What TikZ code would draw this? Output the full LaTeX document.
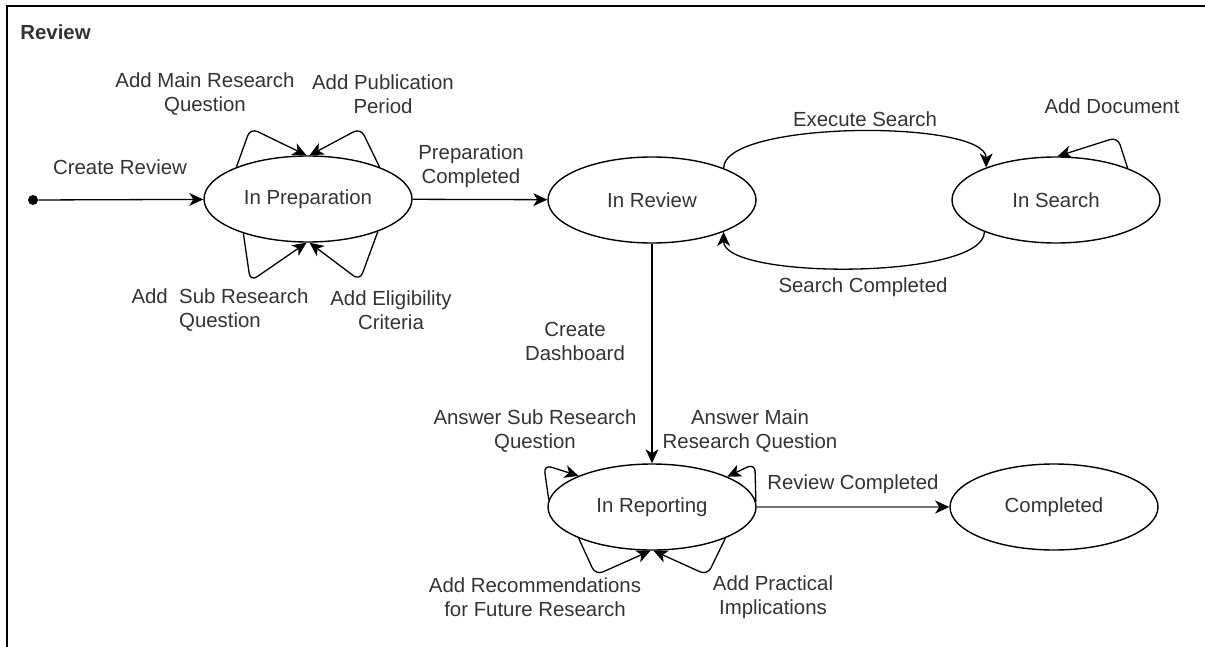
\documentclass[tikz,border=0pt]{standalone}
\usepackage{fontspec}
\setmainfont{Liberation Sans}
\usetikzlibrary{arrows.meta,shapes.geometric}

\tikzset{
	state/.style={draw, ellipse, line width=0.7pt, minimum width=104pt, minimum height=43pt, inner sep=0pt, text=black!80},
	lbl/.style={align=center, inner sep=0pt, text=black!80},
	trans/.style={line width=0.65pt, -{Stealth[length=7pt,width=6.4pt,inset=2pt,color=black]}},
	selfloop/.style={trans, rounded corners=4pt},
}

\begin{document}
\begin{tikzpicture}[x=0.5pt, y=-0.5pt, font=\fontsize{10.2}{12}\selectfont]
	%%%%% START %%%%%
	\useasboundingbox (0,0) rectangle (1205,647);
	\draw[line width=0.6pt] (1205,6) -- (7,6) -- (7,647);
	\node[lbl, font=\fontsize{10.2}{12}\selectfont\bfseries, anchor=west] (title) at (20,32) {Review};
	
	% states
	\node[state] (prep) at (308,199) {In Preparation};
	\node[state] (review) at (652,200) {In Review};
	\node[state] (search) at (1056,200) {In Search};
	\node[state] (report) at (652,507) {In Reporting};
	\node[state] (done) at (1054,507) {Completed};
	\node[circle, fill, inner sep=0pt, minimum size=5pt] (init) at (33,200) {};
	
	% transitions
	\draw[trans] (init) -- (prep);
	\draw[trans] (prep) -- (review);
	\draw[trans] (review) -- (report);
	\draw[trans, draw=black!55, line width=1.3pt] (report) -- (done);
	\draw[trans] (review.24) .. controls +(0,-48) and +(0,-48) .. (search.155);
	\draw[trans] (search.204) .. controls +(0,48) and +(0,48) .. (review.336);
	
	% self loops
	\draw[selfloop] (prep.156) -- ++(14,-39) -- (prep.92);
	\draw[selfloop] (prep.24) -- ++(-19,-39) -- (prep.88);
	\draw[selfloop] (prep.208) -- ++(7,48) -- (prep.268);
	\draw[selfloop] (prep.335) -- ++(-18,49) -- (prep.272);
	\draw[selfloop] (search.24) -- ++(-10,-31) -- (search.88);
	\draw[selfloop] (report.176) -- ++(-5,-35) -- (report.157);
	\draw[selfloop] (report.3) -- ++(-1,-38) -- (report.22);
	\draw[selfloop] (report.203) -- ++(17,37) -- (report.268);
	\draw[selfloop] (report.337) -- ++(-18,37) -- (report.272);
	
	% labels
	\node[lbl] (lcreate) at (120,167) {Create Review};
	\node[lbl] (lmain) at (205,94) {Add Main Research\\Question};
	\node[lbl] (lperiod) at (383,94) {Add Publication\\Period};
	\node[lbl] (lsub) at (220,310) {Add\ \ Sub Research\\Question};
	\node[lbl] (lelig) at (391,310) {Add Eligibility\\Criteria};
	\node[lbl] (lprepdone) at (471,166) {Preparation\\Completed};
	\node[lbl] (lexec) at (865,119) {Execute Search};
	\node[lbl] (lsearchdone) at (863,287) {Search Completed};
	\node[lbl] (ldoc) at (1112,106) {Add Document};
	\node[lbl] (ldash) at (575,341) {Create\\Dashboard};
	\node[lbl] (lanssub) at (535,431) {Answer Sub Research\\Question};
	\node[lbl] (lansmain) at (750,431) {Answer Main\\Research Question};
	\node[lbl] (lrec) at (535,597) {Add Recommendations\\for Future Research};
	\node[lbl] (lprac) at (773,597) {Add Practical\\Implications};
	\node[lbl] (lrevdone) at (853,484) {Review Completed};
	%%%%% END %%%%%
\end{tikzpicture}
\end{document}
